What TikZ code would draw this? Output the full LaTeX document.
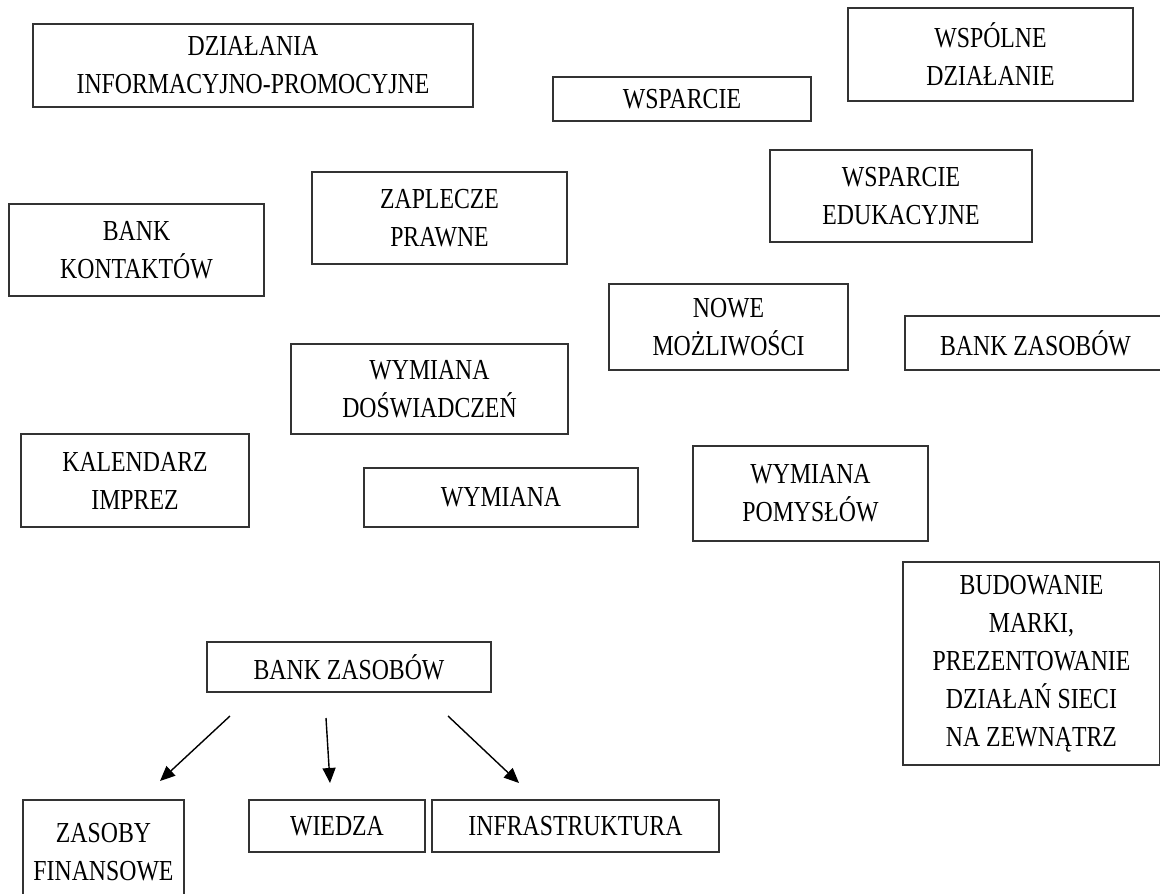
\documentclass[tikz,border=0pt]{standalone}
\usepackage{fontspec}
\setmainfont{Liberation Serif}[FakeStretch=0.82]
\usetikzlibrary{arrows.meta}
\begin{document}
\begin{tikzpicture}[
    x=1pt,
    y=-1pt,
    >={Triangle[length=15pt,width=13pt]},
    box/.style={
        draw=black!80,
        line width=1.1pt,
        rectangle,
        inner sep=0pt,
        align=center,
        font=\fontsize{29}{38}\selectfont
    },
    branch/.style={
        ->,
        line width=1.4pt
    }
    ]
    \useasboundingbox (0,0) rectangle (1160,894);

    \node[box,minimum width=440,minimum height=83] (dzialania) at (253,65.5) {DZIAŁANIA\\INFORMACYJNO-PROMOCYJNE};
    \node[box,minimum width=258,minimum height=44] (wsparcie) at (682,99) {WSPARCIE};
    \node[box,minimum width=285,minimum height=93] (wspolne) at (990.5,54.5) {WSPÓLNE\\DZIAŁANIE};
    \node[box,minimum width=255,minimum height=92] (zaplecze) at (439.5,218) {ZAPLECZE\\PRAWNE};
    \node[box,minimum width=262,minimum height=92] (edukacja) at (901,196) {WSPARCIE\\EDUKACYJNE};
    \node[box,minimum width=255,minimum height=92] (kontakty) at (136.5,250) {BANK\\KONTAKTÓW};
    \node[box,minimum width=239,minimum height=86] (mozliwosci) at (728.5,327) {NOWE\\MOŻLIWOŚCI};
    \node[box,minimum width=261,minimum height=54] (zasobyR) at (1035.5,343) {BANK ZASOBÓW};
    \node[box,minimum width=277,minimum height=90] (doswiadczenia) at (429.5,389) {WYMIANA\\DOŚWIADCZEŃ};
    \node[box,minimum width=228,minimum height=93] (kalendarz) at (135,480.5) {KALENDARZ\\IMPREZ};
    \node[box,minimum width=274,minimum height=59] (wymiana) at (501,497.5) {WYMIANA};
    \node[box,minimum width=235,minimum height=95] (pomysly) at (810.5,493.5) {WYMIANA\\POMYSŁÓW};
    \node[box,minimum width=257,minimum height=203] (marka) at (1031.5,663.5) {BUDOWANIE\\MARKI,\\PREZENTOWANIE\\DZIAŁAŃ SIECI\\NA ZEWNĄTRZ};

    % bank zasobow i jego czesci
    \node[box,minimum width=284,minimum height=50] (bank) at (349,667) {BANK ZASOBÓW};
    \node[box,minimum width=161,minimum height=104] (finanse) at (103.5,852) {ZASOBY\\FINANSOWE};
    \node[box,minimum width=176,minimum height=52] (wiedza) at (337,826) {WIEDZA};
    \node[box,minimum width=287,minimum height=52] (infra) at (575.5,826) {INFRASTRUKTURA};

    \coordinate (finanseStart) at (230,716);
    \coordinate (finanseEnd) at (160,781);
    \coordinate (wiedzaStart) at (326,718);
    \coordinate (wiedzaEnd) at (330,783);
    \coordinate (infraStart) at (448,716);
    \coordinate (infraEnd) at (519,783);

    \draw[branch] (finanseStart) -- (finanseEnd);
    \draw[branch] (wiedzaStart) -- (wiedzaEnd);
    \draw[branch] (infraStart) -- (infraEnd);
\end{tikzpicture}
\end{document}
